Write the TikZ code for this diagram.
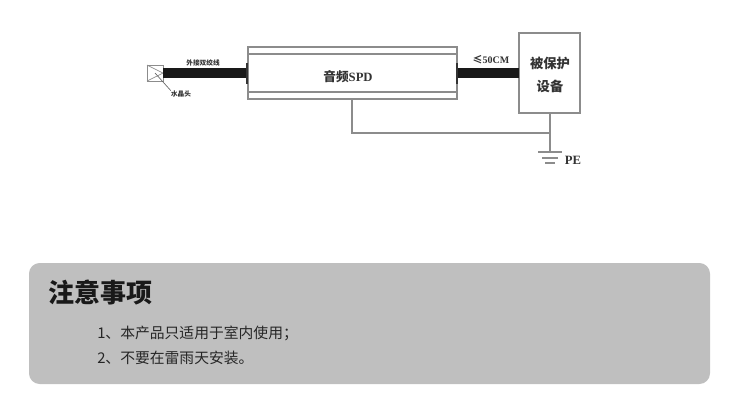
\documentclass[tikz,border=0pt]{standalone}
\usepackage{fontspec}
\setmainfont{Liberation Serif}
\newfontfamily\cjk{Noto Sans CJK SC}
\usetikzlibrary{calc}
\definecolor{panelgray}{HTML}{BFBFBF}
\definecolor{boxgray}{HTML}{8C8C8C}
\definecolor{inkgray}{HTML}{333333}
\tikzset{
  box/.style={draw=boxgray, line width=0.9pt, inner sep=0pt, outer sep=0pt},
  cable/.style={line width=7.5pt, black!90},
  wire/.style={draw=boxgray, line width=0.9pt},
  stub/.style={line width=2pt, black!80},
  tag/.style={font=\cjk\bfseries, text=inkgray, inner sep=0pt},
  note/.style={font=\cjk, text=black!85, anchor=west, inner sep=0pt}
}
\begin{document}
\begin{tikzpicture}[x=0.75pt,y=-0.75pt]
\useasboundingbox (0,0) rectangle (748,401);
% panel
\fill[panelgray, rounded corners=8pt] (29,263) rectangle (710,384);
\node[note, font=\cjk\bfseries\fontsize{19.5pt}{22pt}\selectfont, text=black!90] (title) at (48,292) {注意事项};
\node[note, font=\cjk\fontsize{11.1pt}{13pt}\selectfont] (item1) at (97,333) {1、本产品只适用于室内使用；};
\node[note, font=\cjk\fontsize{11.1pt}{13pt}\selectfont] (item2) at (97,358) {2、不要在雷雨天安装。};

% the three boxes
\node[box, minimum width=156.75pt, minimum height=39pt] (spd) at (352.5,73) {};
\draw[boxgray, line width=1pt] (spd.west |- 0,54) -- (spd.east |- 0,54);
\draw[boxgray, line width=1pt] (spd.west |- 0,92) -- (spd.east |- 0,92);
\node[tag, font=\cjk\bfseries\fontsize{9.5pt}{11pt}\selectfont] (spdname) at (348,77) {音频\rmfamily SPD};
\node[box, minimum width=45.75pt, minimum height=60pt] (device) at (549.5,73) {};
\node[tag, font=\cjk\bfseries\fontsize{10pt}{12pt}\selectfont] (devicetop) at (550,63) {被保护};
\node[tag, font=\cjk\bfseries\fontsize{10pt}{12pt}\selectfont] (devicebot) at (550,86) {设备};
\node[box, line width=0.7pt, minimum size=12pt] (plug) at (155,73) {};
\draw[boxgray, line width=0.5pt] (plug.north west) -- (plug.east) -- (plug.south west);

% cables
\draw[cable] (plug.east) -- (spd.west);
\draw[cable] (spd.east) -- (device.west);
\draw[stub] (247,63) -- (247,84);
\draw[stub] (457,63) -- (457,84);

% earth
\coordinate (tap) at (352,99);
\coordinate (join) at (550,133);
\coordinate (earth) at (550,152);
\draw[wire] (tap) |- (join);
\draw[wire] (device.south -| earth) -- (earth);
\draw[wire] ($(earth)+(-12,0)$) -- ($(earth)+(12,0)$);
\draw[wire] ($(earth)+(-8,6)$) -- ($(earth)+(8,6)$);
\draw[wire] ($(earth)+(-5,11)$) -- ($(earth)+(5,11)$);
\node[tag, font=\bfseries\fontsize{9.5pt}{11pt}\selectfont] (pe) at (573,160) {PE};

% small labels
\node[tag, font=\cjk\bfseries\fontsize{5pt}{6pt}\selectfont] (cablename) at (203,63) {外接双绞线};
\node[tag, font=\cjk\bfseries\fontsize{5pt}{6pt}\selectfont] (plugname) at (181,94) {水晶头};
\draw[black!60, line width=0.5pt] (plug.center) -- (plugname.north west);
\node[tag, font=\bfseries\fontsize{7.5pt}{10pt}\selectfont] (length) at (491,60) {\cjk ≤\rmfamily 50CM};
\end{tikzpicture}
\end{document}
